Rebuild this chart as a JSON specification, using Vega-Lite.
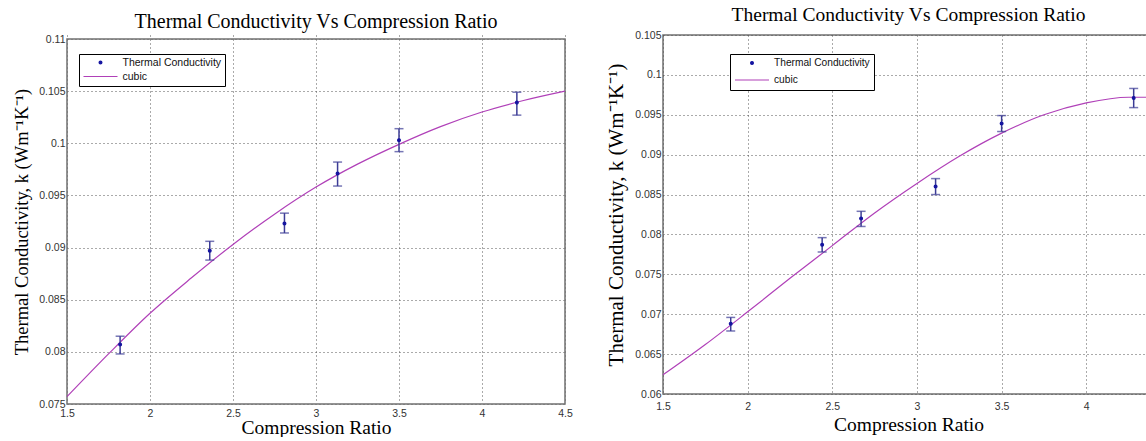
{
  "$schema": "https://vega.github.io/schema/vega-lite/v6.json",
  "background": "white",
  "padding": {"left": 12, "top": 4, "right": 0, "bottom": 0},
  "bounds": "flush",
  "spacing": 98,
  "resolve": {"scale": {"fill": "independent", "stroke": "independent", "shape": "independent", "size": "independent", "x": "independent", "y": "independent"}, "legend": {"fill": "independent", "stroke": "independent", "shape": "independent", "size": "independent"}},
  "datasets": {
    "left_meas": [
      {"ratio": 1.82, "k": 0.0807, "lo": 0.0798, "hi": 0.0815, "series": "Thermal Conductivity"},
      {"ratio": 2.36, "k": 0.0897, "lo": 0.0888, "hi": 0.0906, "series": "Thermal Conductivity"},
      {"ratio": 2.81, "k": 0.0923, "lo": 0.0914, "hi": 0.0933, "series": "Thermal Conductivity"},
      {"ratio": 3.13, "k": 0.0971, "lo": 0.0959, "hi": 0.0982, "series": "Thermal Conductivity"},
      {"ratio": 3.50, "k": 0.1003, "lo": 0.0992, "hi": 0.1014, "series": "Thermal Conductivity"},
      {"ratio": 4.21, "k": 0.1039, "lo": 0.1027, "hi": 0.1049, "series": "Thermal Conductivity"}
    ],
    "left_fit": [
      {"ratio": 1.5, "k": 0.0757},
      {"ratio": 1.75, "k": 0.0798},
      {"ratio": 2.0, "k": 0.0837},
      {"ratio": 2.25, "k": 0.0871},
      {"ratio": 2.5, "k": 0.0903},
      {"ratio": 2.75, "k": 0.0932},
      {"ratio": 3.0, "k": 0.0958},
      {"ratio": 3.25, "k": 0.0980},
      {"ratio": 3.5, "k": 0.0999},
      {"ratio": 3.75, "k": 0.1016},
      {"ratio": 4.0, "k": 0.1030},
      {"ratio": 4.25, "k": 0.1041},
      {"ratio": 4.5, "k": 0.1050}
    ],
    "left_frame": [{"x0": 1.5, "x1": 4.5, "y0": 0.075, "y1": 0.11}],
    "right_meas": [
      {"ratio": 1.90, "k": 0.0688, "lo": 0.0679, "hi": 0.0696, "series": "Thermal Conductivity"},
      {"ratio": 2.44, "k": 0.0787, "lo": 0.0778, "hi": 0.0796, "series": "Thermal Conductivity"},
      {"ratio": 2.67, "k": 0.0820, "lo": 0.0810, "hi": 0.0829, "series": "Thermal Conductivity"},
      {"ratio": 3.11, "k": 0.0860, "lo": 0.0850, "hi": 0.0870, "series": "Thermal Conductivity"},
      {"ratio": 3.50, "k": 0.0939, "lo": 0.0929, "hi": 0.0949, "series": "Thermal Conductivity"},
      {"ratio": 4.28, "k": 0.0971, "lo": 0.0959, "hi": 0.0983, "series": "Thermal Conductivity"}
    ],
    "right_fit": [
      {"ratio": 1.5, "k": 0.0624},
      {"ratio": 1.75, "k": 0.0662},
      {"ratio": 2.0, "k": 0.0703},
      {"ratio": 2.25, "k": 0.0745},
      {"ratio": 2.5, "k": 0.0786},
      {"ratio": 2.75, "k": 0.0827},
      {"ratio": 3.0, "k": 0.0864},
      {"ratio": 3.25, "k": 0.0898},
      {"ratio": 3.5, "k": 0.0927},
      {"ratio": 3.75, "k": 0.0950},
      {"ratio": 4.0, "k": 0.0965},
      {"ratio": 4.25, "k": 0.0972},
      {"ratio": 4.4, "k": 0.0972}
    ]
  },
  "hconcat": [
    {
      "width": 498, "height": 369,
      "view": {"stroke": null},
      "title": {"text": "Thermal Conductivity Vs Compression Ratio", "fontSize": 20, "offset": 2},
      "encoding": {
        "x": {"field": "ratio", "type": "quantitative",
              "scale": {"domain": [1.5, 4.5], "nice": false, "zero": false},
              "axis": {"values": [1.5, 2, 2.5, 3, 3.5, 4, 4.5], "format": ".3~g", "title": "Compression Ratio", "titleFontSize": 19.5, "titlePadding": 0, "labelPadding": 4}},
        "y": {"field": "k", "type": "quantitative",
              "scale": {"domain": [0.075, 0.11], "range": [369, 4], "nice": false, "zero": false},
              "axis": {"values": [0.075, 0.08, 0.085, 0.09, 0.095, 0.1, 0.105, 0.11], "format": ".3~g", "title": "Thermal Conductivity, k (Wm⁻¹K⁻¹)", "titleFontSize": 18.5, "titlePadding": 7}}
      },
      "layer": [
        {
          "data": {"name": "left_frame"},
          "mark": {"type": "rect", "fill": null, "fillOpacity": 0, "stroke": "#707070", "strokeWidth": 1.5},
          "encoding": {
            "x": {"field": "x0", "type": "quantitative"}, "x2": {"field": "x1"},
            "y": {"field": "y0", "type": "quantitative"}, "y2": {"field": "y1"}
          }
        },
        {
          "data": {"name": "left_fit"},
          "mark": {"type": "line", "interpolate": "monotone", "strokeWidth": 1.2, "color": "#b040b8"},
          "encoding": {}
        },
        {
          "data": {"name": "left_meas"},
          "mark": {"type": "rule", "color": "#3c3c96", "strokeWidth": 1.5},
          "encoding": {"y": {"field": "lo", "type": "quantitative"}, "y2": {"field": "hi"}}
        },
        {
          "data": {"name": "left_meas"},
          "mark": {"type": "tick", "orient": "horizontal", "color": "#3c3c96", "size": 9, "thickness": 1.5},
          "encoding": {"y": {"field": "lo", "type": "quantitative"}}
        },
        {
          "data": {"name": "left_meas"},
          "mark": {"type": "tick", "orient": "horizontal", "color": "#3c3c96", "size": 9, "thickness": 1.5},
          "encoding": {"y": {"field": "hi", "type": "quantitative"}}
        },
        {
          "data": {"name": "left_meas"},
          "mark": {"type": "point", "filled": true, "opacity": 1, "strokeWidth": 1.2},
          "encoding": {
            "fill": {"field": "series", "type": "nominal",
                     "scale": {"domain": ["Thermal Conductivity", "\u00a0\u00a0\u00a0cubic"], "range": ["#1414a0", "transparent"]},
                     "legend": {"orient": "none", "legendX": 12, "legendY": 19, "title": null,
                                "strokeColor": "#000", "fillColor": "#fff", "padding": 3.5, "cornerRadius": 0,
                                "labelFont": "Liberation Sans", "labelFontSize": 10.5, "labelColor": "#111",
                                "labelOffset": 4, "rowPadding": 3, "clipHeight": 10, "symbolStrokeWidth": 1.2}},
            "stroke": {"field": "series", "type": "nominal",
                       "scale": {"domain": ["Thermal Conductivity", "\u00a0\u00a0\u00a0cubic"], "range": ["#1414a0", "#b040b8"]},
                       "legend": {"orient": "none", "legendX": 12, "legendY": 19, "title": null,
                                "strokeColor": "#000", "fillColor": "#fff", "padding": 3.5, "cornerRadius": 0,
                                "labelFont": "Liberation Sans", "labelFontSize": 10.5, "labelColor": "#111",
                                "labelOffset": 4, "rowPadding": 3, "clipHeight": 10, "symbolStrokeWidth": 1.2}},
            "shape": {"field": "series", "type": "nominal",
                      "scale": {"domain": ["Thermal Conductivity", "\u00a0\u00a0\u00a0cubic"], "range": ["circle", "stroke"]},
                      "legend": {"orient": "none", "legendX": 12, "legendY": 19, "title": null,
                                "strokeColor": "#000", "fillColor": "#fff", "padding": 3.5, "cornerRadius": 0,
                                "labelFont": "Liberation Sans", "labelFontSize": 10.5, "labelColor": "#111",
                                "labelOffset": 4, "rowPadding": 3, "clipHeight": 10, "symbolStrokeWidth": 1.2}},
            "size": {"field": "series", "type": "nominal",
                     "scale": {"domain": ["Thermal Conductivity", "\u00a0\u00a0\u00a0cubic"], "range": [8, 1156]},
                     "legend": {"orient": "none", "legendX": 12, "legendY": 19, "title": null,
                                "strokeColor": "#000", "fillColor": "#fff", "padding": 3.5, "cornerRadius": 0,
                                "labelFont": "Liberation Sans", "labelFontSize": 10.5, "labelColor": "#111",
                                "labelOffset": 4, "rowPadding": 3, "clipHeight": 10, "symbolStrokeWidth": 1.2}}
          }
        }
      ]
    },
    {
      "width": 491, "height": 359,
      "view": {"stroke": "#707070", "strokeWidth": 1.5},
      "title": {"text": "Thermal Conductivity Vs Compression Ratio", "fontSize": 19.5, "offset": 4.5},
      "encoding": {
        "x": {"field": "ratio", "type": "quantitative",
              "scale": {"domain": [1.5, 4.4], "nice": false, "zero": false},
              "axis": {"values": [1.5, 2, 2.5, 3, 3.5, 4], "format": ".3~g", "title": "Compression Ratio", "titleFontSize": 19.5, "titlePadding": 4, "labelPadding": 7}},
        "y": {"field": "k", "type": "quantitative",
              "scale": {"domain": [0.06, 0.105], "nice": false, "zero": false},
              "axis": {"values": [0.06, 0.065, 0.07, 0.075, 0.08, 0.085, 0.09, 0.095, 0.1, 0.105], "format": ".3~g", "title": "Thermal Conductivity, k (Wm⁻¹K⁻¹)", "titleFontSize": 21, "titlePadding": 8}}
      },
      "layer": [
        {
          "data": {"name": "right_fit"},
          "mark": {"type": "line", "interpolate": "monotone", "strokeWidth": 1.2, "color": "#b040b8"},
          "encoding": {}
        },
        {
          "data": {"name": "right_meas"},
          "mark": {"type": "rule", "color": "#3c3c96", "strokeWidth": 1.5},
          "encoding": {"y": {"field": "lo", "type": "quantitative"}, "y2": {"field": "hi"}}
        },
        {
          "data": {"name": "right_meas"},
          "mark": {"type": "tick", "orient": "horizontal", "color": "#3c3c96", "size": 9, "thickness": 1.5},
          "encoding": {"y": {"field": "lo", "type": "quantitative"}}
        },
        {
          "data": {"name": "right_meas"},
          "mark": {"type": "tick", "orient": "horizontal", "color": "#3c3c96", "size": 9, "thickness": 1.5},
          "encoding": {"y": {"field": "hi", "type": "quantitative"}}
        },
        {
          "data": {"name": "right_meas"},
          "mark": {"type": "point", "filled": true, "opacity": 1, "strokeWidth": 1.2},
          "encoding": {
            "fill": {"field": "series", "type": "nominal",
                     "scale": {"domain": ["Thermal Conductivity", "\u00a0\u00a0\u00a0cubic"], "range": ["#1414a0", "transparent"]},
                     "legend": {"orient": "none", "legendX": 67, "legendY": 19, "title": null,
                                "strokeColor": "#000", "fillColor": "#fff", "padding": 4, "cornerRadius": 0,
                                "labelFont": "Liberation Sans", "labelFontSize": 10.2, "labelColor": "#111",
                                "labelOffset": 4, "rowPadding": 6, "clipHeight": 10, "symbolStrokeWidth": 1.2}},
            "stroke": {"field": "series", "type": "nominal",
                       "scale": {"domain": ["Thermal Conductivity", "\u00a0\u00a0\u00a0cubic"], "range": ["#1414a0", "#b040b8"]},
                       "legend": {"orient": "none", "legendX": 67, "legendY": 19, "title": null,
                                "strokeColor": "#000", "fillColor": "#fff", "padding": 4, "cornerRadius": 0,
                                "labelFont": "Liberation Sans", "labelFontSize": 10.2, "labelColor": "#111",
                                "labelOffset": 4, "rowPadding": 6, "clipHeight": 10, "symbolStrokeWidth": 1.2}},
            "shape": {"field": "series", "type": "nominal",
                      "scale": {"domain": ["Thermal Conductivity", "\u00a0\u00a0\u00a0cubic"], "range": ["circle", "stroke"]},
                      "legend": {"orient": "none", "legendX": 67, "legendY": 19, "title": null,
                                "strokeColor": "#000", "fillColor": "#fff", "padding": 4, "cornerRadius": 0,
                                "labelFont": "Liberation Sans", "labelFontSize": 10.2, "labelColor": "#111",
                                "labelOffset": 4, "rowPadding": 6, "clipHeight": 10, "symbolStrokeWidth": 1.2}},
            "size": {"field": "series", "type": "nominal",
                     "scale": {"domain": ["Thermal Conductivity", "\u00a0\u00a0\u00a0cubic"], "range": [8, 1156]},
                     "legend": {"orient": "none", "legendX": 67, "legendY": 19, "title": null,
                                "strokeColor": "#000", "fillColor": "#fff", "padding": 4, "cornerRadius": 0,
                                "labelFont": "Liberation Sans", "labelFontSize": 10.2, "labelColor": "#111",
                                "labelOffset": 4, "rowPadding": 6, "clipHeight": 10, "symbolStrokeWidth": 1.2}}
          }
        }
      ]
    }
  ],
  "config": {
    "view": {"stroke": null},
    "title": {"font": "Liberation Serif", "fontWeight": "normal", "color": "#000", "anchor": "middle"},
    "axis": {"labelFont": "Liberation Sans", "labelFontSize": 10.5, "labelColor": "#333", "labelFlush": false,
             "titleFont": "Liberation Serif", "titleFontWeight": "normal", "titleColor": "#000",
             "grid": true, "gridColor": "#555", "gridDash": [1, 3], "gridWidth": 1, "gridOpacity": 1,
             "ticks": false, "domain": false}
  }
}
